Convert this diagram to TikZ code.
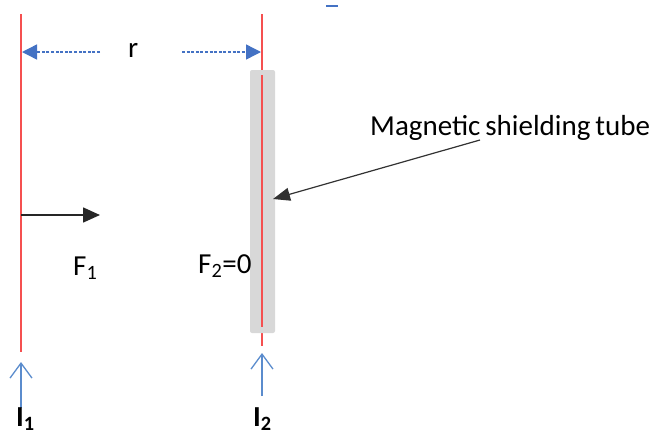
\documentclass[tikz,border=0pt]{standalone}
\usepackage{fontspec}
\setmainfont{Carlito}
\usetikzlibrary{arrows.meta}
\definecolor{wirered}{RGB}{245,80,80}
\definecolor{tubegray}{RGB}{216,216,216}
\definecolor{dimblue}{RGB}{68,114,196}
\definecolor{curblue}{RGB}{91,140,205}
\definecolor{darkline}{RGB}{50,50,50}
\tikzset{
  wire/.style={draw=wirered,line width=1.4pt},
  dimarrow/.style={draw=dimblue,line width=1.4pt,dash pattern=on 3pt off 1.6pt,-{Triangle[length=15pt,width=15pt]}},
  curarrow/.style={draw=curblue,line width=1.3pt,-{Straight Barb[length=15pt,width=22pt,line width=1.3pt]}},
  forcearrow/.style={draw=black!85,line width=1.6pt,-{Triangle[length=17pt,width=15pt]}},
  pointer/.style={draw=darkline,line width=1.2pt,-{Triangle[length=17pt,width=13pt]}},
  lbl/.style={inner sep=0pt,font=\fontsize{29}{34}\selectfont},
  blbl/.style={inner sep=0pt,font=\fontsize{29}{34}\selectfont\bfseries}
}
\begin{document}
\begin{tikzpicture}[x=1pt,y=-1pt]
\useasboundingbox (0,0) rectangle (663,437);
% wires
\coordinate (w1t) at (21,14);
\coordinate (w1b) at (21,352);
\coordinate (w2t) at (262,14);
\coordinate (w2b) at (262,346);
\draw[wire] (w1t) -- (w1b);
\draw[wire] (w2t) -- (w2b);
% shielding tube
\node[fill=tubegray,rounded corners=2pt,minimum width=25pt,minimum height=263pt,inner sep=0pt] (tube) at (262.5,201.5) {};
\coordinate (w2it) at (262,75);
\coordinate (w2ib) at (262,327);
\draw[wire,line width=1.1pt] (w2it) -- (w2ib);
% distance r
\node[lbl,anchor=base west] (r) at (128,57) {r};
\coordinate (d1s) at (100,52);
\coordinate (d1e) at (22,52);
\coordinate (d2s) at (182,52);
\coordinate (d2e) at (261,52);
\draw[dimarrow] (d1s) -- (d1e);
\draw[dimarrow] (d2s) -- (d2e);
% small mark at top
\coordinate (m1) at (326,6);
\coordinate (m2) at (338,6);
\draw[dimblue,line width=1.2pt] (m1) -- (m2);
% force
\coordinate (f1s) at (21,215);
\coordinate (f1e) at (100,215);
\draw[forcearrow] (f1s) -- (f1e);
\node[lbl,anchor=base west] (F1) at (73,275) {F\textsubscript{1}};
\node[lbl,anchor=base west] (F2) at (198,273) {F\textsubscript{2}=0};
% label for tube
\node[lbl,anchor=base west] (mst) at (370,135) {\spaceskip=0.17em\relax Magnetic shielding tube};
\coordinate (ps) at (480,140);
\coordinate (pe) at (273,199);
\draw[pointer] (ps) -- (pe);
% currents
\coordinate (c1s) at (21,408);
\coordinate (c1e) at (21,362);
\coordinate (c2s) at (262,396);
\coordinate (c2e) at (262,353);
\draw[curarrow] (c1s) -- (c1e);
\draw[curarrow] (c2s) -- (c2e);
\node[blbl,anchor=base west] (I1) at (16,426) {I\textsubscript{1}};
\node[blbl,anchor=base west] (I2) at (253,426) {I\textsubscript{2}};
\end{tikzpicture}
\end{document}
